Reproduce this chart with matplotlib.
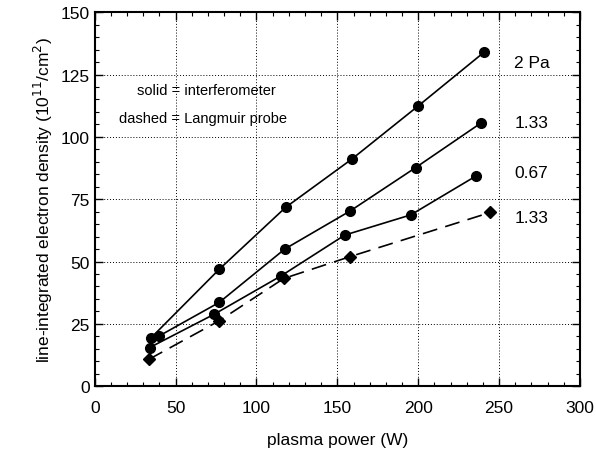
import matplotlib.pyplot as plt
from matplotlib.ticker import MultipleLocator

plt.rcParams['font.family'] = ['Liberation Sans', 'DejaVu Sans']

# interferometer (solid)
x_2pa = [35, 77, 118, 159, 200, 241]
y_2pa = [19.5, 46.9, 71.7, 91.1, 112.4, 134.1]

x_133 = [40, 77, 117.5, 158, 198.5, 238.7]
y_133 = [20.2, 33.6, 55.0, 70.3, 87.7, 105.5]

x_067 = [34, 74, 115.4, 154.6, 195.4, 236]
y_067 = [15.5, 28.9, 44.3, 60.6, 68.7, 84.4]

# Langmuir probe (dashed)
x_lp = [33.6, 76.9, 116.9, 158.1, 244.7]
y_lp = [10.8, 26.2, 43.2, 52.0, 69.7]

labels = ['2 Pa', '1.33', '0.67', '1.33']
label_y = [130, 105.6, 85.7, 67.8]

fig = plt.figure(figsize=(5.96, 4.56), dpi=100)
ax = fig.add_axes([0.159, 0.151, 0.814, 0.82])

for xs, ys in [(x_2pa, y_2pa), (x_133, y_133), (x_067, y_067)]:
    ax.plot(xs, ys, '-', color='black', lw=1.2, marker='o', ms=7)
ax.plot(x_lp, y_lp, color='black', lw=1.2, dashes=(9, 5), marker='D', ms=6)

for lab, ly in zip(labels, label_y):
    ax.text(270, ly, lab, fontsize=12.5, ha='center', va='center')

ax.text(69, 118.6, 'solid = interferometer', fontsize=10.5, ha='center', va='center')
ax.text(67, 107.5, 'dashed = Langmuir probe', fontsize=10.5, ha='center', va='center')

ax.set_xlim(0, 300)
ax.set_ylim(0, 150)
ax.xaxis.set_major_locator(MultipleLocator(50))
ax.xaxis.set_minor_locator(MultipleLocator(10))
ax.yaxis.set_major_locator(MultipleLocator(25))
ax.yaxis.set_minor_locator(MultipleLocator(5))
ax.tick_params(which='both', direction='in', top=True, right=True, labelsize=12.5)
ax.tick_params(which='major', length=6, width=1)
ax.tick_params(which='minor', length=3, width=0.8)
ax.tick_params(axis='x', pad=10)
ax.grid(True, which='major', linestyle=(0, (1, 2)), color='black', lw=0.7)
for s in ax.spines.values():
    s.set_linewidth(1.5)

ax.set_xlabel('plasma power (W)', fontsize=12.5, labelpad=12)
ax.set_ylabel('line-integrated electron density (10$^{11}$/cm$^{2}$)', fontsize=12.5)

plt.savefig('out.png', dpi=100)
